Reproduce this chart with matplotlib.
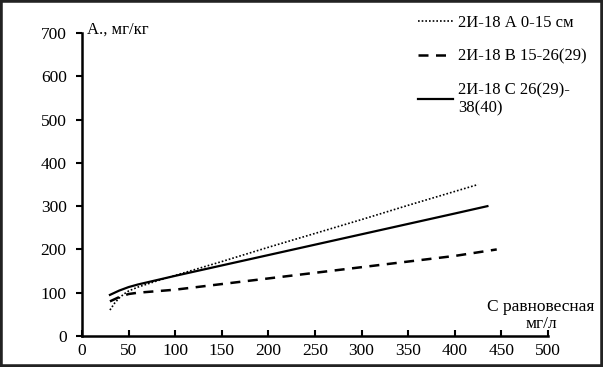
import matplotlib
matplotlib.use("Agg")
import matplotlib.pyplot as plt
from matplotlib.patches import Rectangle

plt.rcParams['font.family'] = ['Liberation Serif', 'DejaVu Serif']

# Data
xA = [30, 35, 40, 45, 50, 60, 80, 100, 150, 200, 250, 300, 350, 400, 425]
yA = [60, 76, 88, 97, 104, 113, 127, 140, 172, 205, 237, 269, 302, 334, 350]
xB = [30, 40, 50, 60, 100, 150, 200, 250, 300, 350, 400, 445]
yB = [80, 90, 97, 100, 107, 120, 133, 146, 159, 172, 185, 200]
xC = [30, 40, 50, 60, 100, 150, 200, 250, 300, 350, 400, 435]
yC = [95, 105, 113, 119, 139, 163, 187, 211, 235, 259, 283, 300]
labels = ['2И-18 А 0-15 см', '2И-18 В 15-26(29)', '2И-18 С 26(29)-\n38(40)']
xticks = [0, 50, 100, 150, 200, 250, 300, 350, 400, 450, 500]
yticks = [0, 100, 200, 300, 400, 500, 600, 700]

fig = plt.figure(figsize=(6.03, 3.67), dpi=100)
ax = fig.add_axes([82/603, 31/367, (548-82)/603, (336-33)/367])

lA, = ax.plot(xA, yA, color='black', linestyle=(0, (1, 1.2)), linewidth=1.2)
lB, = ax.plot(xB, yB, color='black', linestyle=(0, (4, 3)), linewidth=1.8)
lC, = ax.plot(xC, yC, color='black', linestyle='-', linewidth=1.6)

ax.set_xlim(0, 500)
ax.set_ylim(0, 700)
ax.set_xticks(xticks)
ax.set_yticks(yticks)
ax.tick_params(axis='x', direction='in', length=4, width=1.5, labelsize=12.5, pad=5)
ax.tick_params(axis='y', direction='out', length=4, width=1.5, labelsize=12.5, pad=7)
for s in ['top', 'right']:
    ax.spines[s].set_visible(False)
for s in ['left', 'bottom']:
    ax.spines[s].set_linewidth(1.8)

fig.text(87/603, 1 - 34/367, 'А., мг/кг', fontsize=12, ha='left', va='baseline')
fig.text(541/603, 1 - 311/367, 'С равновесная', fontsize=12.5, ha='center', va='baseline')
fig.text(541/603, 1 - 328/367, 'мг/л', fontsize=12.5, ha='center', va='baseline')

leg = fig.legend([lA, lB, lC], labels, loc='upper left',
                 bbox_to_anchor=(403/603, 1 - 0/367), frameon=False,
                 fontsize=12, handlelength=2.1, handletextpad=0.3,
                 labelspacing=1.05)

fig.patches.append(Rectangle((0, 0), 1, 1, transform=fig.transFigure,
                             fill=False, edgecolor='#222222', linewidth=4,
                             zorder=10))

fig.savefig('out.png', dpi=100)
